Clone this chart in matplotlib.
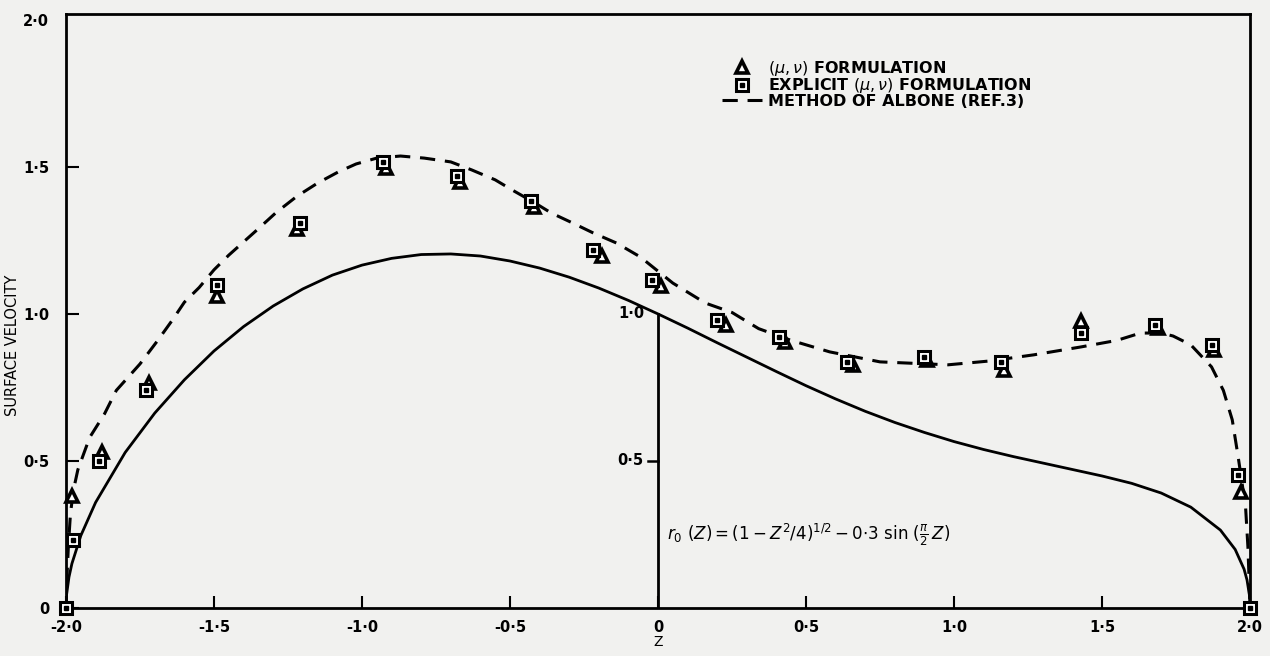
import matplotlib
matplotlib.use('Agg')
import matplotlib.pyplot as plt
from matplotlib.legend_handler import HandlerTuple

# Body contour r0(z), solid line
body_z = [-2.0, -1.998, -1.99, -1.98, -1.95, -1.9, -1.8, -1.7, -1.6, -1.5, -1.4, -1.3, -1.2, -1.1,
          -1.0, -0.9, -0.8, -0.7, -0.6, -0.5, -0.4, -0.3, -0.2, -0.1, 0.0, 0.1, 0.2, 0.3, 0.4,
          0.5, 0.6, 0.7, 0.8, 0.9, 1.0, 1.1, 1.2, 1.3, 1.4, 1.5, 1.6, 1.7, 1.8, 1.9, 1.95,
          1.98, 1.99, 1.998, 2.0]
body_r = [0.0, 0.046, 0.105, 0.151, 0.246, 0.359, 0.529, 0.663, 0.776, 0.874, 0.957, 1.027, 1.085, 1.132,
          1.166, 1.189, 1.202, 1.204, 1.197, 1.180, 1.156, 1.125, 1.088, 1.046, 1.0, 0.952, 0.902, 0.853, 0.804,
          0.756, 0.711, 0.669, 0.631, 0.597, 0.566, 0.539, 0.515, 0.493, 0.471, 0.449, 0.424, 0.391, 0.343, 0.265, 0.199,
          0.132, 0.095, 0.044, 0.0]

# Method of Albone (ref. 3), dashed line
albone_z = [-2.0, -1.997, -1.992, -1.985, -1.975, -1.96, -1.92, -1.87, -1.83, -1.75, -1.69, -1.64, -1.60,
            -1.55, -1.50, -1.45, -1.40, -1.35, -1.29, -1.22, -1.15, -1.08, -1.02, -0.95, -0.87, -0.79,
            -0.70, -0.63, -0.55, -0.49, -0.42, -0.36, -0.29, -0.22, -0.14, -0.06, 0.05, 0.16, 0.25,
            0.34, 0.45, 0.58, 0.75, 0.98, 1.12, 1.27, 1.43, 1.55, 1.63, 1.70, 1.74, 1.80, 1.87,
            1.91, 1.94, 1.96, 1.985, 1.993, 1.997, 2.0]
albone_v = [0.0, 0.10, 0.21, 0.32, 0.40, 0.47, 0.58, 0.66, 0.74, 0.83, 0.91, 0.98, 1.04,
            1.09, 1.15, 1.20, 1.245, 1.29, 1.345, 1.40, 1.445, 1.483, 1.51, 1.53, 1.537, 1.53,
            1.517, 1.49, 1.456, 1.42, 1.38, 1.343, 1.31, 1.276, 1.241, 1.194, 1.105, 1.037, 1.005,
            0.95, 0.91, 0.871, 0.837, 0.827, 0.84, 0.861, 0.888, 0.91, 0.935, 0.935, 0.925, 0.895, 0.82,
            0.74, 0.64, 0.514, 0.344, 0.207, 0.095, 0.0]

# (mu, nu) formulation - triangles
tri_z = [-1.98, -1.88, -1.72, -1.49, -1.22, -0.92, -0.67, -0.42, -0.19, 0.01, 0.23, 0.43, 0.66,
         0.91, 1.17, 1.43, 1.69, 1.88, 1.97]
tri_v = [0.38, 0.53, 0.765, 1.06, 1.29, 1.497, 1.45, 1.365, 1.197, 1.095, 0.962, 0.905, 0.827,
         0.844, 0.81, 0.975, 0.952, 0.878, 0.395]

# explicit (mu, nu) formulation - squares
sq_z = [-2.0, -1.975, -1.89, -1.73, -1.49, -1.21, -0.93, -0.68, -0.43, -0.22, -0.02, 0.20, 0.41,
        0.64, 0.90, 1.16, 1.43, 1.68, 1.87, 1.96, 2.0]
sq_v = [0.0, 0.23, 0.50, 0.74, 1.10, 1.31, 1.517, 1.47, 1.384, 1.218, 1.116, 0.98, 0.922,
        0.837, 0.854, 0.837, 0.935, 0.963, 0.895, 0.452, 0.0]

xticks = [-2.0, -1.5, -1.0, -0.5, 0.0, 0.5, 1.0, 1.5, 2.0]
xtick_labels = ['-2·0', '-1·5', '-1·0', '-0·5', '0', '0·5', '1·0', '1·5', '2·0']
yticks = [0.0, 0.5, 1.0, 1.5, 2.0]
ytick_labels = ['0', '0·5', '1·0', '1·5', '2·0']

bg = '#f1f1ef'
fig = plt.figure(figsize=(12.7, 6.56), dpi=100, facecolor=bg)
ax = fig.add_axes([66 / 1270, 1 - 608 / 656, (1250 - 66) / 1270, (608 - 14) / 656])
ax.set_facecolor(bg)

ax.plot(body_z, body_r, color='black', lw=2.0, solid_capstyle='round')
dash_line, = ax.plot(albone_z, albone_v, color='black', lw=2.2, linestyle=(0, (5, 3.2)))
tri_line, = ax.plot(tri_z, tri_v, linestyle='none', marker='^', ms=9, mfc='white', mec='black',
                    mew=2.6, clip_on=False, zorder=4)
sq_line, = ax.plot(sq_z, sq_v, linestyle='none', marker='s', ms=9, mfc='white', mec='black',
                   mew=2.2, clip_on=False, zorder=5)
sq_dot, = ax.plot(sq_z, sq_v, linestyle='none', marker='s', ms=2.5, mfc='black', mec='black',
                  clip_on=False, zorder=6)

# radius scale drawn on the z = 0 line
ax.plot([0, 0], [0, 1.0], color='black', lw=2.0)
ax.plot([-0.035, 0], [0.5, 0.5], color='black', lw=1.8)
ax.text(-0.045, 1.0, '1·0', ha='right', va='center', fontsize=10.5, fontweight='bold')
ax.text(-0.05, 0.5, '0·5', ha='right', va='center', fontsize=10.5, fontweight='bold')

ax.text(0.03, 0.25, r'$r_0\ (Z) = (1 - Z^2/4)^{1/2} - 0{\cdot}3\ \sin\,(\frac{\pi}{2}\,Z)$',
        fontsize=12, ha='left', va='center')

ax.set_xlim(-2.0, 2.0)
ax.set_ylim(0, 2.02)
ax.set_xticks(xticks)
ax.set_xticklabels(xtick_labels, fontsize=10.5, fontweight='bold')
ax.set_yticks(yticks)
ax.set_yticklabels(ytick_labels, fontsize=10.5, fontweight='bold')
ax.tick_params(direction='in', length=9, width=1.5, pad=9)
ax.tick_params(axis='y', pad=12)
ax.yaxis.get_major_ticks()[-1].tick1line.set_visible(False)
for s in ax.spines.values():
    s.set_linewidth(2.0)

ax.set_xlabel('Z', fontsize=10, labelpad=0)
fig.text(13 / 1270, 1 - 345 / 656, 'SURFACE VELOCITY', rotation=90, ha='center', va='center',
         fontsize=10.5)

ax.legend([tri_line, (sq_line, sq_dot), dash_line],
          [r'$(\mu,\nu)$ FORMULATION', r'EXPLICIT $(\mu,\nu)$ FORMULATION', 'METHOD OF ALBONE (REF.3)'],
          handler_map={tuple: HandlerTuple(ndivide=1, pad=0)},
          loc='upper left', bbox_to_anchor=(722 / 1270, 1 - 59 / 656), bbox_transform=fig.transFigure,
          frameon=False, borderpad=0, borderaxespad=0, handlelength=2.5, handletextpad=0.4,
          labelspacing=-0.1, prop={'weight': 'bold', 'size': 11.5})

fig.savefig('out.png', dpi=100, facecolor=bg)
